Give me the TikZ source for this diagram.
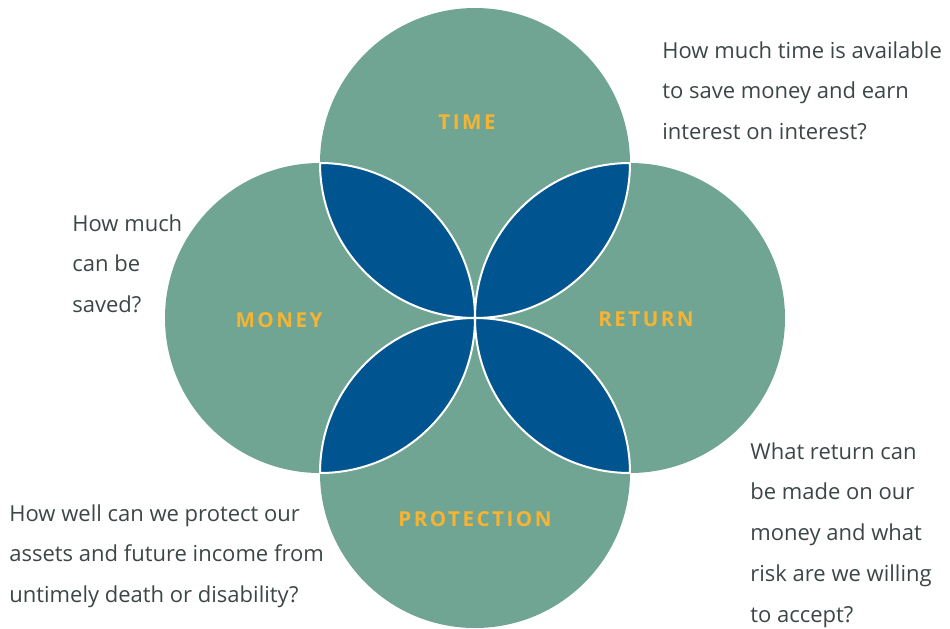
\documentclass[tikz,border=0pt]{standalone}
\usepackage{fontspec}
\setmainfont{Open Sans}
\newfontfamily\capsfont[LetterSpace=12]{Open Sans}
\usetikzlibrary{positioning}

\definecolor{petal}{HTML}{71A593}
\definecolor{lensblue}{HTML}{005591}
\definecolor{capsgold}{HTML}{F6B432}
\definecolor{qgray}{HTML}{3D4646}

\begin{document}
\begin{tikzpicture}[x=0.5pt, y=-0.5pt]
  \tikzset{
    disc/.style={fill=petal, draw=none},
    lens/.style={fill=lensblue, draw=white, line width=1pt, line join=round},
    caps/.style={text=capsgold, font=\capsfont\bfseries\fontsize{10.3}{12}\selectfont},
    question/.style={text=qgray, align=left, anchor=north west, inner sep=0pt,
      font=\fontsize{11}{20.4}\selectfont}
  }
  \useasboundingbox (0,0) rectangle (950,628);

  \coordinate (ct) at (475,163);
  \coordinate (cl) at (320,318);
  \coordinate (cr) at (630,318);
  \coordinate (cb) at (475,473);

  % the four circles
  \fill[disc] (ct) circle[radius=155];
  \fill[disc] (cl) circle[radius=155];
  \fill[disc] (cr) circle[radius=155];
  \fill[disc] (cb) circle[radius=155];

  % the overlaps
  \draw[lens] (320,163) arc[start angle=180, end angle=90, radius=155]
    arc[start angle=0, end angle=-90, radius=155] -- cycle;
  \draw[lens] (630,163) arc[start angle=0, end angle=90, radius=155]
    arc[start angle=180, end angle=270, radius=155] -- cycle;
  \draw[lens] (320,473) arc[start angle=180, end angle=270, radius=155]
    arc[start angle=0, end angle=90, radius=155] -- cycle;
  \draw[lens] (630,473) arc[start angle=0, end angle=-90, radius=155]
    arc[start angle=180, end angle=90, radius=155] -- cycle;

  \node[caps] (time) at (467,122) {TIME};
  \node[caps] (money) at (279,320) {MONEY};
  \node[caps] (return) at (646,319) {RETURN};
  \node[caps] (protection) at (475,519) {PROTECTION};

  \node[question] (qtime) at (662,41) {How much time is available\\to save money and earn\\interest on interest?};
  \node[question] (qmoney) at (72,214) {How much\\can be\\saved?};
  \node[question] (qreturn) at (750,442) {What return can\\be made on our\\money and what\\risk are we willing\\to accept?};
  \node[question] (qprotect) at (9,504) {How well can we protect our\\assets and future income from\\untimely death or disability?};
\end{tikzpicture}
\end{document}
